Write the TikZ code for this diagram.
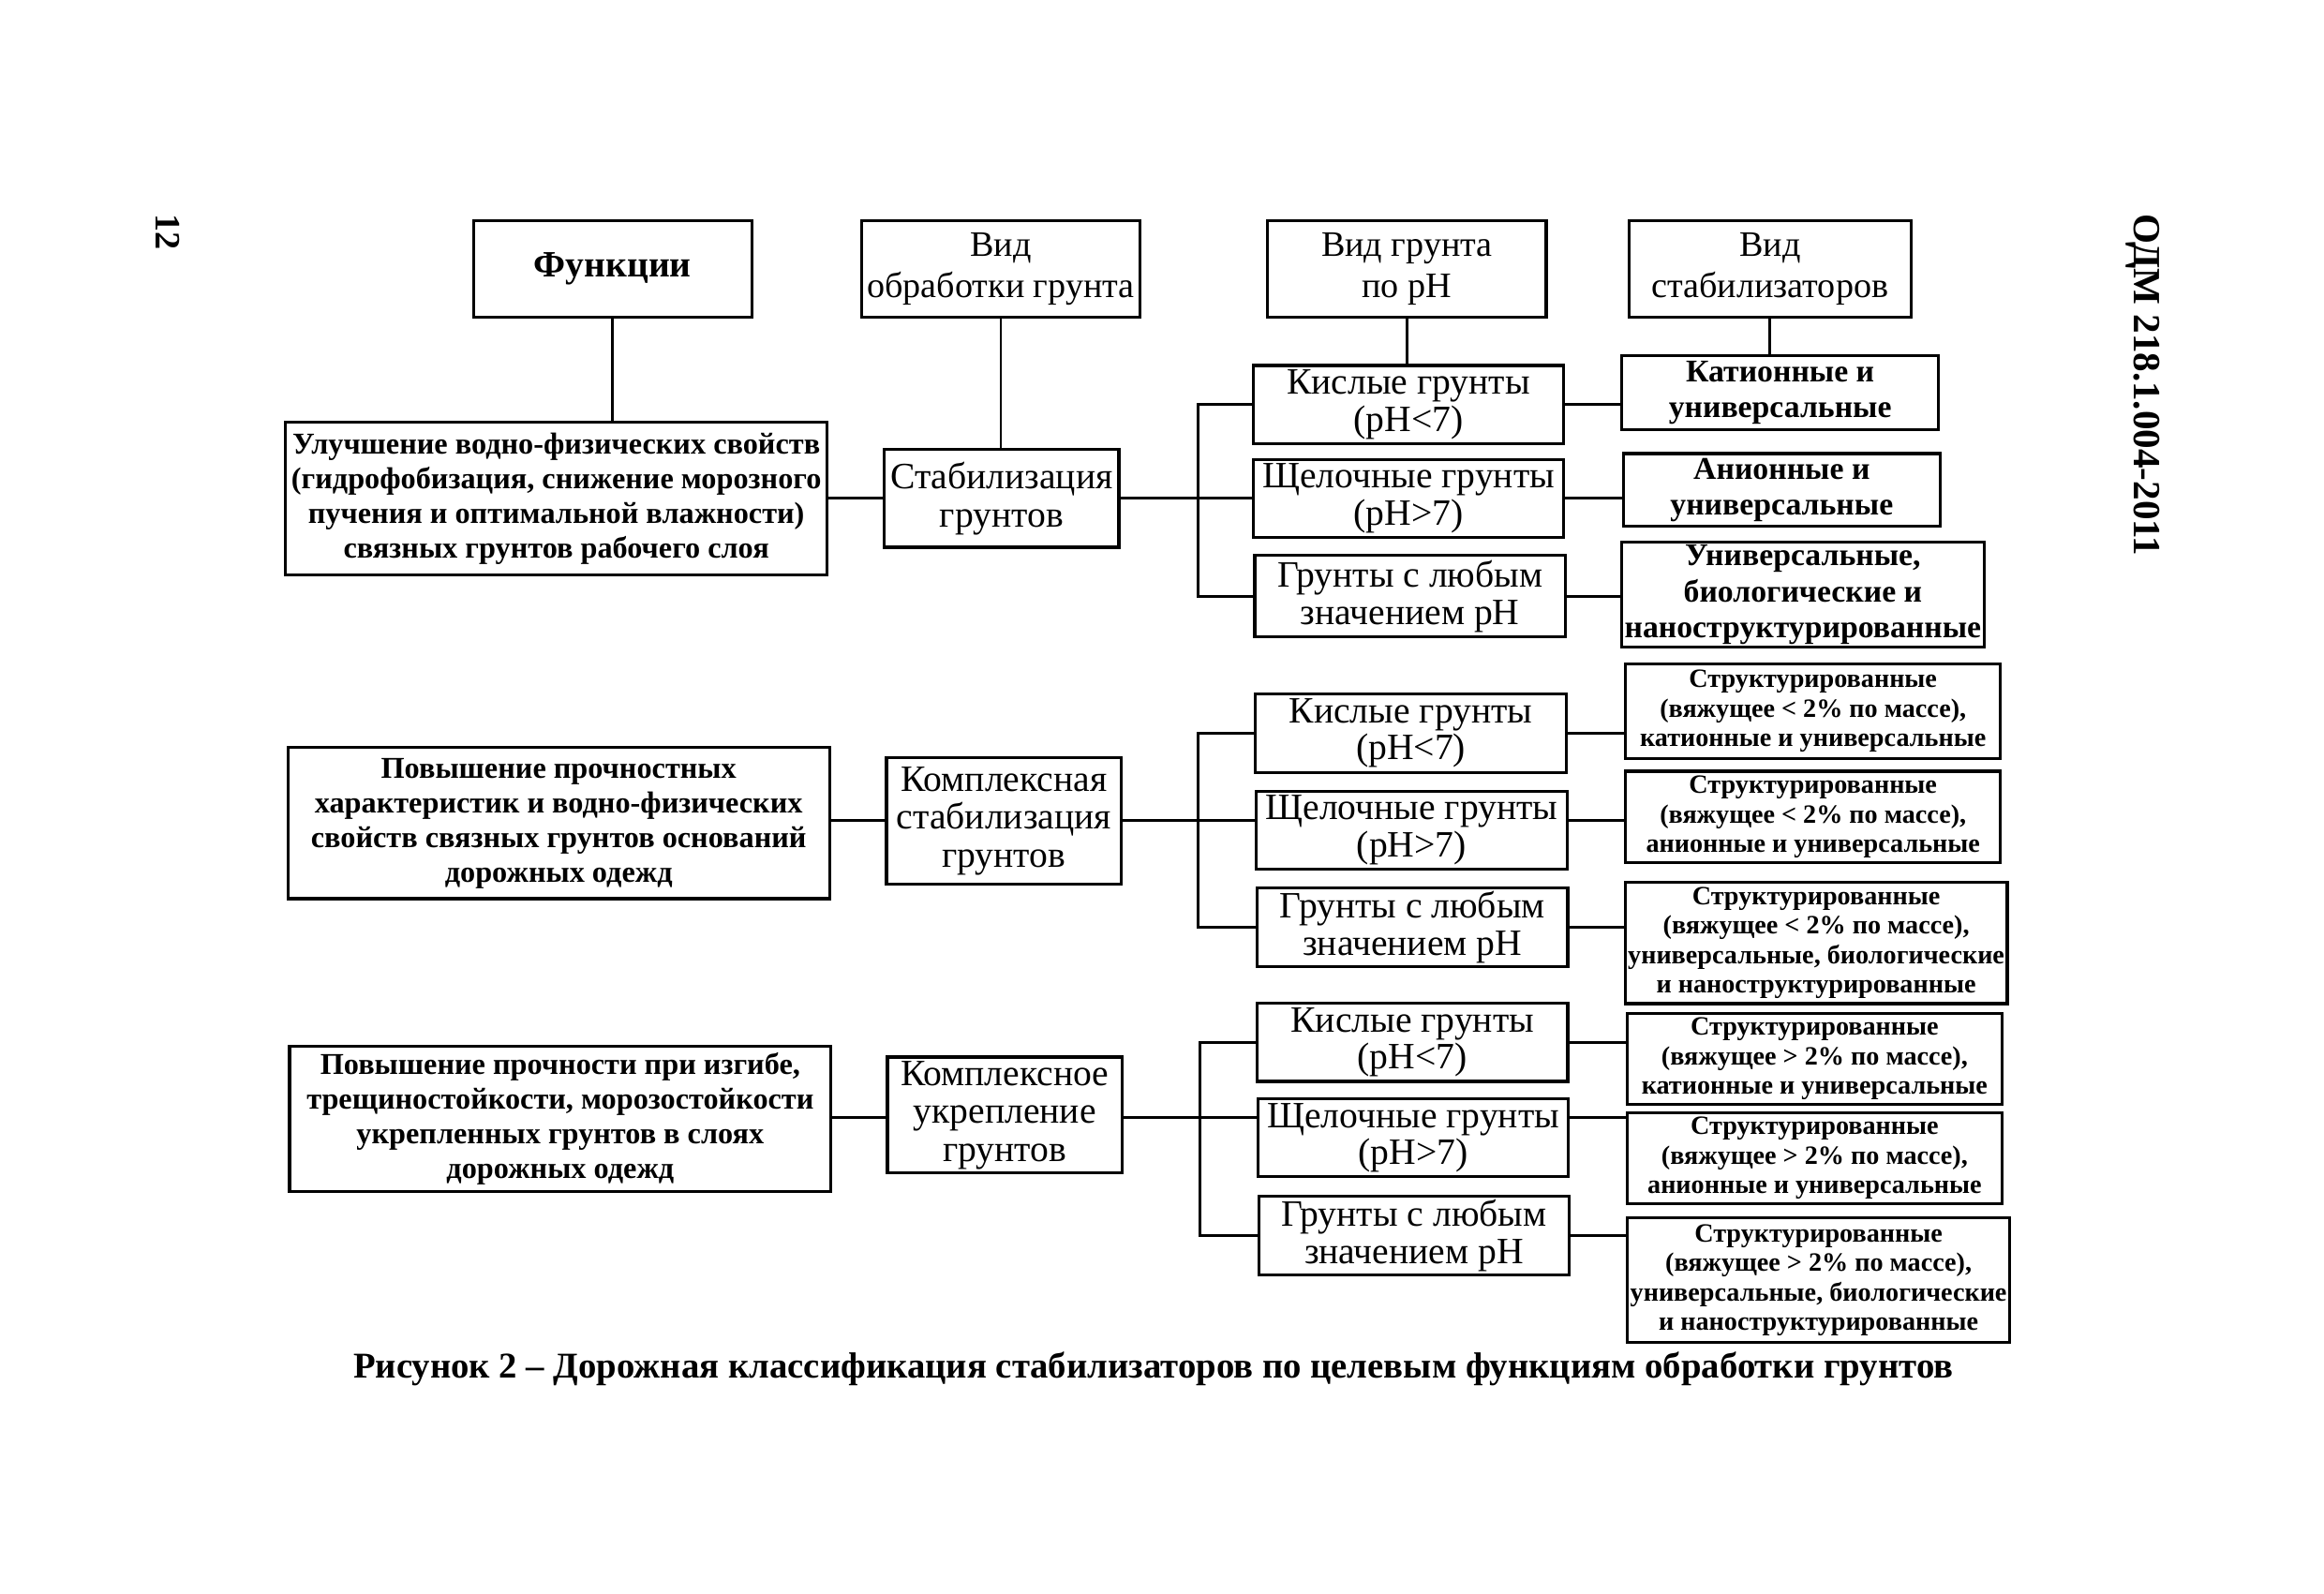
\documentclass[tikz,border=0pt]{standalone}
\usepackage{fontspec}
\setmainfont{Liberation Serif}

\tikzset{
  box/.style={draw, line width=1.1pt, align=center, inner sep=1pt},
  head/.style={box, minimum width=3.56cm, minimum height=1.23cm, font=\fontsize{13}{15}\selectfont},
  func/.style={box, minimum width=6.92cm, font=\bfseries\fontsize{11}{12.6}\selectfont},
  kind/.style={box, minimum width=3.0cm, font=\fontsize{13.5}{13.8}\selectfont},
  soil/.style={box, minimum width=3.97cm, minimum height=1.0cm, font=\fontsize{13.5}{13.5}\selectfont},
  stab/.style={box, font=\bfseries\fontsize{11.5}{13}\selectfont},
  stabs/.style={box, minimum width=4.79cm, font=\bfseries\fontsize{9.6}{10.7}\selectfont},
  link/.style={line width=1pt}
}

\begin{document}
\begin{tikzpicture}
  % page frame
  \useasboundingbox (0,0) rectangle (29.7,-20.36);

  % page number and document code (rotated)
  \node[rotate=-90, font=\bfseries\fontsize{13}{15}\selectfont] (pnum) at (2.14,-2.97) {12};
  \node[rotate=-90, font=\bfseries\fontsize{14}{16}\selectfont] (code) at (27.39,-4.92) {ОДМ 218.1.004-2011};

  %-----------------------------
  % column headers
  \node[head, font=\bfseries\fontsize{13.5}{15}\selectfont] (Funk) at (7.83,-3.44) {Функции};
  \node[head] (VidObr) at (12.79,-3.44) {Вид\\обработки грунта};
  \node[head] (VidGr) at (17.98,-3.44) {Вид грунта\\по pH};
  \node[head, minimum width=3.6cm] (VidSt) at (22.62,-3.44) {Вид\\стабилизаторов};

  %-----------------------------
  % row 1: stabilization
  \coordinate (b1) at (15.31,-6.37);
  \node[func, minimum height=1.95cm] (F1) at (7.11,-6.37)
       {Улучшение водно-физических свойств\\(гидрофобизация, снижение морозного\\пучения и оптимальной влажности)\\связных грунтов рабочего слоя};
  \node[kind, minimum height=1.25cm] (T1) at (12.80,-6.37) {Стабилизация\\грунтов};
  \node[soil] (S1a) at (18.00,-5.17) {Кислые грунты\\(pH<7)};
  \node[soil] (S1b) at (18.00,-6.37) {Щелочные грунты\\(pH>7)};
  \node[soil, minimum height=1.04cm] (S1c) at (18.02,-7.62) {Грунты с любым\\значением pH};
  \node[stab, minimum width=4.05cm, minimum height=0.95cm] (R1a) at (22.75,-5.02) {Катионные и\\универсальные};
  \node[stab, minimum width=4.05cm, minimum height=0.93cm] (R1b) at (22.77,-6.26) {Анионные и\\универсальные};
  \node[stab, minimum width=4.56cm, minimum height=1.33cm] (R1c) at (23.04,-7.60)
       {Универсальные,\\биологические и\\наноструктурированные};

  %-----------------------------
  % row 2: complex stabilization
  \coordinate (b2) at (15.31,-10.49);
  \node[func, minimum height=1.93cm] (F2) at (7.14,-10.52)
       {Повышение прочностных\\характеристик и водно-физических\\свойств связных грунтов оснований\\дорожных одежд};
  \node[kind, minimum height=1.61cm] (T2) at (12.83,-10.49) {Комплексная\\стабилизация\\грунтов};
  \node[soil] (S2a) at (18.03,-9.37) {Кислые грунты\\(pH<7)};
  \node[soil] (S2b) at (18.04,-10.61) {Щелочные грунты\\(pH>7)};
  \node[soil] (S2c) at (18.05,-11.85) {Грунты с любым\\значением pH};
  \node[stabs, minimum height=1.21cm] (R2a) at (23.17,-9.09)
       {Структурированные\\(вяжущее < 2\% по массе),\\катионные и универсальные};
  \node[stabs, minimum height=1.17cm] (R2b) at (23.17,-10.44)
       {Структурированные\\(вяжущее < 2\% по массе),\\анионные и универсальные};
  \node[stabs, minimum width=4.87cm, minimum height=1.55cm] (R2c) at (23.21,-12.05)
       {Структурированные\\(вяжущее < 2\% по массе),\\универсальные, биологические\\и наноструктурированные};

  %-----------------------------
  % row 3: complex strengthening
  \coordinate (b3) at (15.33,-14.28);
  \node[func, minimum height=1.86cm] (F3) at (7.16,-14.30)
       {Повышение прочности при изгибе,\\трещиностойкости, морозостойкости\\укрепленных грунтов в слоях\\дорожных одежд};
  \node[kind, minimum height=1.48cm] (T3) at (12.84,-14.25) {Комплексное\\укрепление\\грунтов};
  \node[soil] (S3a) at (18.05,-13.32) {Кислые грунты\\(pH<7)};
  \node[soil] (S3b) at (18.06,-14.54) {Щелочные грунты\\(pH>7)};
  \node[soil] (S3c) at (18.07,-15.79) {Грунты с любым\\значением pH};
  \node[stabs, minimum height=1.16cm] (R3a) at (23.19,-13.53)
       {Структурированные\\(вяжущее > 2\% по массе),\\катионные и универсальные};
  \node[stabs, minimum height=1.16cm] (R3b) at (23.19,-14.80)
       {Структурированные\\(вяжущее > 2\% по массе),\\анионные и универсальные};
  \node[stabs, minimum width=4.89cm, minimum height=1.59cm] (R3c) at (23.24,-16.36)
       {Структурированные\\(вяжущее > 2\% по массе),\\универсальные, биологические\\и наноструктурированные};

  %-----------------------------
  % header connectors
  \draw[link] (Funk.south) -- (Funk.south |- F1.north);
  \draw[link] (VidObr.south) -- (VidObr.south |- T1.north);
  \draw[link] (VidGr.south) -- (VidGr.south |- S1a.north);
  \draw[link] (VidSt.south) -- (VidSt.south |- R1a.north);

  % row 1 connectors
  \draw[link] (F1.east |- b1) -- (T1.west |- b1);
  \draw[link] (T1.east |- b1) -- (b1);
  \draw[link] (S1a.west) -- (b1 |- S1a.west) -- (b1 |- S1c.west) -- (S1c.west);
  \draw[link] (b1) -- (b1 -| S1b.west);
  \draw[link] (S1a.east) -- (S1a.east -| R1a.west);
  \draw[link] (S1b.east |- b1) -- (R1b.west |- b1);
  \draw[link] (S1c.east) -- (S1c.east -| R1c.west);

  % row 2 connectors
  \draw[link] (F2.east |- b2) -- (T2.west |- b2);
  \draw[link] (T2.east |- b2) -- (b2);
  \draw[link] (S2a.west) -- (b2 |- S2a.west) -- (b2 |- S2c.west) -- (S2c.west);
  \draw[link] (b2) -- (b2 -| S2b.west);
  \draw[link] (S2a.east) -- (S2a.east -| R2a.west);
  \draw[link] (S2b.east |- b2) -- (R2b.west |- b2);
  \draw[link] (S2c.east) -- (S2c.east -| R2c.west);

  % row 3 connectors
  \draw[link] (F3.east |- b3) -- (T3.west |- b3);
  \draw[link] (T3.east |- b3) -- (b3);
  \draw[link] (S3a.west) -- (b3 |- S3a.west) -- (b3 |- S3c.west) -- (S3c.west);
  \draw[link] (b3) -- (b3 -| S3b.west);
  \draw[link] (S3a.east) -- (S3a.east -| R3a.west);
  \draw[link] (S3b.east |- b3) -- (R3b.west |- b3);
  \draw[link] (S3c.east) -- (S3c.east -| R3c.west);

  %-----------------------------
  % caption
  \node[font=\bfseries\fontsize{13.2}{15}\selectfont] (cap) at (14.74,-17.50)
       {Рисунок 2 -- Дорожная классификация стабилизаторов по целевым функциям обработки грунтов};
\end{tikzpicture}
\end{document}
